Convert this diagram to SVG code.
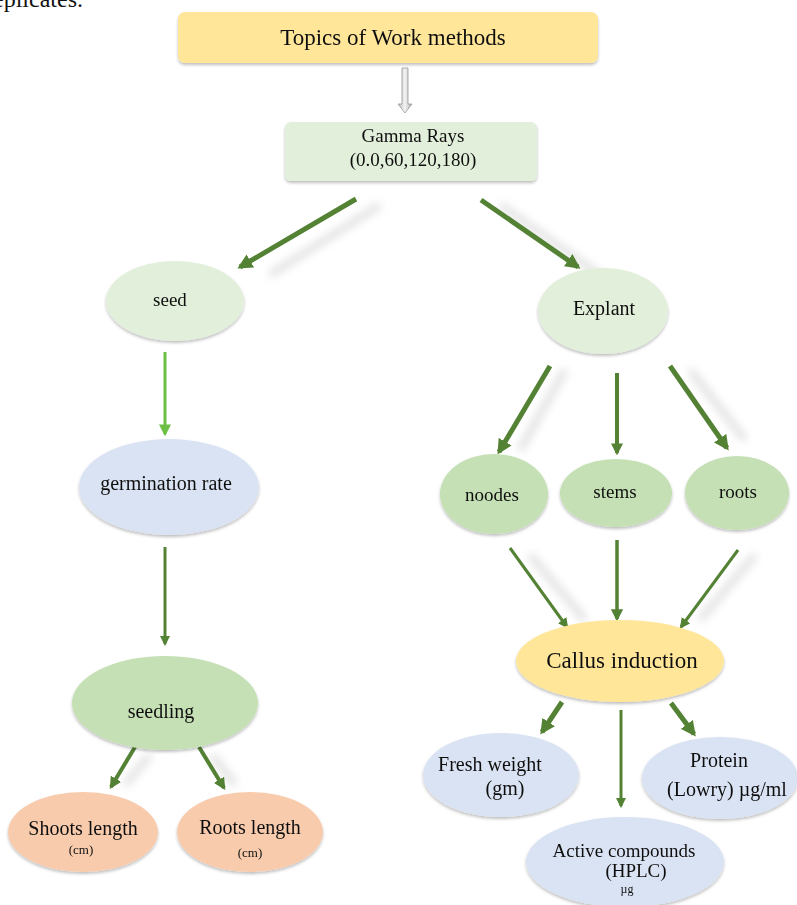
<svg xmlns="http://www.w3.org/2000/svg" width="797" height="905" viewBox="0 0 797 905">
<defs>
<style>
text{font-family:"Liberation Serif","Times New Roman",serif;fill:#111;text-anchor:middle}
.t24{font-size:23px}.t20{font-size:20px}.t19{font-size:19px}.t14{font-size:13px}
.dk{stroke:#548235;fill:none}
.lt{stroke:#6DBF45;fill:none}
.sh{stroke:#000;stroke-opacity:0.12;fill:none;filter:url(#blur)}
</style>
<filter id="blur" x="-50%" y="-50%" width="200%" height="200%"><feGaussianBlur stdDeviation="4"/></filter>
<filter id="ds" x="-20%" y="-20%" width="140%" height="150%"><feDropShadow dx="0" dy="2" stdDeviation="1.5" flood-color="#000" flood-opacity="0.25"/></filter>
<marker id="ah" viewBox="0 0 10 10" refX="8" refY="5" markerWidth="3" markerHeight="3" orient="auto" markerUnits="strokeWidth"><path d="M0,0 L10,5 L0,10 Z" fill="#548235"/></marker>
<marker id="ah2" viewBox="0 0 10 10" refX="8" refY="5" markerWidth="3.5" markerHeight="3.5" orient="auto" markerUnits="strokeWidth"><path d="M0,0 L10,5 L0,10 Z" fill="#548235"/></marker>
<marker id="ahl" viewBox="0 0 10 10" refX="8" refY="5" markerWidth="4" markerHeight="4" orient="auto" markerUnits="strokeWidth"><path d="M0,0 L10,5 L0,10 Z" fill="#6DBF45"/></marker>
<linearGradient id="gg" x1="0" y1="0" x2="1" y2="0"><stop offset="0" stop-color="#bbb"/><stop offset="0.5" stop-color="#f4f4f4"/><stop offset="1" stop-color="#aaa"/></linearGradient>
</defs>

<text x="34" y="7" style="font-size:24px">replicates.</text>

<g id="connectors">
  <g id="shadows">
    <line class="sh" x1="380" y1="205" x2="270" y2="275" stroke-width="7"/>
    <line class="sh" x1="500" y1="205" x2="600" y2="275" stroke-width="7"/>
    <line class="sh" x1="182" y1="360" x2="182" y2="430" stroke-width="7"/>
    <line class="sh" x1="182" y1="555" x2="182" y2="640" stroke-width="7"/>
    <line class="sh" x1="565" y1="370" x2="520" y2="450" stroke-width="7"/>
    <line class="sh" x1="635" y1="378" x2="635" y2="450" stroke-width="7"/>
    <line class="sh" x1="690" y1="370" x2="745" y2="440" stroke-width="7"/>
    <line class="sh" x1="530" y1="555" x2="585" y2="620" stroke-width="7"/>
    <line class="sh" x1="755" y1="555" x2="700" y2="620" stroke-width="7"/>
    <line class="sh" x1="150" y1="755" x2="125" y2="785" stroke-width="7"/>
    <line class="sh" x1="212" y1="755" x2="235" y2="785" stroke-width="7"/>
  </g>
  <path d="M402,68 L408,68 L408,104 L412,104 L405,113 L398,104 L402,104 Z" fill="url(#gg)" stroke="#999" stroke-width="0.8"/>
  <line class="dk" x1="356" y1="199" x2="240" y2="267" stroke-width="5" marker-end="url(#ah)"/>
  <line class="dk" x1="481" y1="200" x2="578" y2="267" stroke-width="5" marker-end="url(#ah)"/>
  <line class="lt" x1="165" y1="352" x2="165" y2="434" stroke-width="3" marker-end="url(#ahl)"/>
  <line class="dk" x1="165" y1="547" x2="165" y2="644" stroke-width="3" marker-end="url(#ah2)"/>
  <line class="dk" x1="135" y1="747" x2="111" y2="787" stroke-width="4" marker-end="url(#ah)"/>
  <line class="dk" x1="199" y1="747" x2="224" y2="788" stroke-width="4" marker-end="url(#ah)"/>
  <line class="dk" x1="550" y1="366" x2="499" y2="452" stroke-width="5" marker-end="url(#ah)"/>
  <line class="dk" x1="617" y1="373" x2="617" y2="453" stroke-width="4" marker-end="url(#ah)"/>
  <line class="dk" x1="670" y1="366" x2="727" y2="448" stroke-width="5" marker-end="url(#ah)"/>
  <line class="dk" x1="510" y1="548" x2="567" y2="627" stroke-width="3" marker-end="url(#ah2)"/>
  <line class="dk" x1="617" y1="540" x2="617" y2="619" stroke-width="3.5" marker-end="url(#ah2)"/>
  <line class="dk" x1="738" y1="550" x2="681" y2="627" stroke-width="3" marker-end="url(#ah2)"/>
  <line class="dk" x1="562" y1="702" x2="542" y2="732" stroke-width="5" marker-end="url(#ah)"/>
  <line class="dk" x1="621" y1="710" x2="621" y2="806" stroke-width="3" marker-end="url(#ah2)"/>
  <line class="dk" x1="671" y1="703" x2="694" y2="734" stroke-width="5" marker-end="url(#ah)"/>
</g>

<g id="n-topics" filter="url(#ds)">
  <rect x="178" y="12" width="420" height="51" rx="7" fill="#FFE699"/>
  <text class="t24" x="393" y="45">Topics of Work methods</text>
</g>
<g id="n-gamma" filter="url(#ds)">
  <rect x="285" y="122" width="252" height="59" rx="6" fill="#E2EFDA"/>
  <text class="t19" x="413" y="142">Gamma Rays</text>
  <text class="t19" x="413" y="166">(0.0,60,120,180)</text>
</g>
<g id="n-seed" filter="url(#ds)">
  <ellipse cx="175" cy="301" rx="69" ry="40" fill="#E2EFDA"/>
  <text class="t19" x="170" y="306">seed</text>
</g>
<g id="n-explant" filter="url(#ds)">
  <ellipse cx="603" cy="311" rx="65" ry="43" fill="#E2EFDA"/>
  <text class="t20" x="604" y="315">Explant</text>
</g>
<g id="n-germination" filter="url(#ds)">
  <ellipse cx="169" cy="487" rx="90" ry="48" fill="#DAE3F3"/>
  <text class="t20" x="166" y="490">germination rate</text>
</g>
<g id="n-seedling" filter="url(#ds)">
  <ellipse cx="165" cy="703" rx="93" ry="47" fill="#C5E0B4"/>
  <text class="t20" x="161" y="718">seedling</text>
</g>
<g id="n-shoots" filter="url(#ds)">
  <ellipse cx="83" cy="832" rx="75" ry="40" fill="#F8CBAD"/>
  <text class="t20" x="83" y="835">Shoots length</text>
  <text class="t14" x="81" y="854">(cm)</text>
</g>
<g id="n-rootslen" filter="url(#ds)">
  <ellipse cx="250" cy="832" rx="73" ry="40" fill="#F8CBAD"/>
  <text class="t20" x="250" y="834">Roots length</text>
  <text class="t14" x="250" y="857">(cm)</text>
</g>
<g id="n-noodes" filter="url(#ds)">
  <ellipse cx="494" cy="494" rx="54" ry="40" fill="#C5E0B4"/>
  <text class="t19" x="492" y="501">noodes</text>
</g>
<g id="n-stems" filter="url(#ds)">
  <ellipse cx="616" cy="493" rx="56" ry="34" fill="#C5E0B4"/>
  <text class="t19" x="615" y="498">stems</text>
</g>
<g id="n-roots" filter="url(#ds)">
  <ellipse cx="737" cy="493" rx="52" ry="37" fill="#C5E0B4"/>
  <text class="t19" x="738" y="498">roots</text>
</g>
<g id="n-callus" filter="url(#ds)">
  <ellipse cx="620" cy="661" rx="104" ry="41" fill="#FFE699"/>
  <text class="t24" x="622" y="668">Callus induction</text>
</g>
<g id="n-fresh" filter="url(#ds)">
  <ellipse cx="501" cy="775" rx="78" ry="42" fill="#DAE3F3"/>
  <text class="t20" x="490" y="771">Fresh weight</text>
  <text class="t20" x="505" y="795">(gm)</text>
</g>
<g id="n-protein" filter="url(#ds)">
  <ellipse cx="720" cy="778" rx="78" ry="41" fill="#DAE3F3"/>
  <text class="t20" x="719" y="767">Protein</text>
  <text class="t20" x="727" y="796">(Lowry) µg/ml</text>
</g>
<g id="n-active" filter="url(#ds)">
  <ellipse cx="625" cy="862" rx="99" ry="45" fill="#DAE3F3"/>
  <text class="t19" x="624" y="857">Active compounds</text>
  <text class="t19" x="636" y="877">(HPLC)</text>
  <text style="font-size:12px" x="627" y="893">µg</text>
</g>
</svg>
